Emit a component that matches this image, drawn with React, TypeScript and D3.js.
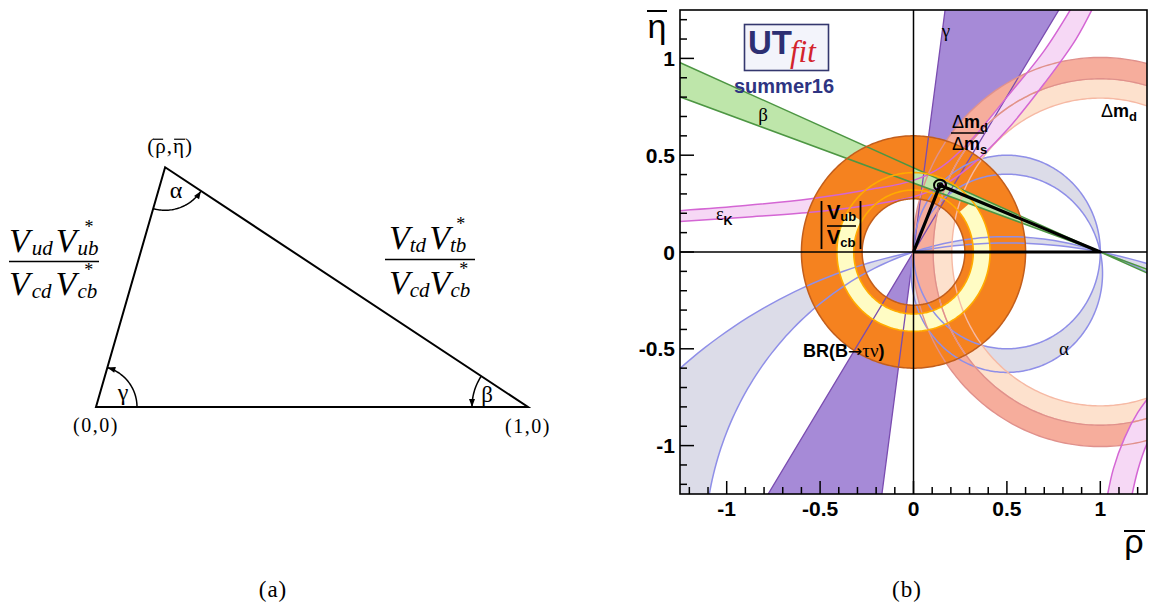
import React from "react";
import * as d3 from "d3";

const W = 1150;
const H = 605;
const SANS = "'Liberation Sans', Arial, Helvetica, sans-serif";
const SERIF = "'Liberation Serif', 'Times New Roman', serif";

// ---------- panel (a): sketch of the unitarity triangle ----------
const sketchApex: [number, number] = [0.16, 0.555];

// ---------- panel (b): constraints in the (rho-bar, eta-bar) plane ----------
const majorTicks = [-1, -0.5, 0, 0.5, 1];
const majorTickLabels = ["-1", "-0.5", "0", "0.5", "1"];

const gammaDeg = [58.1, 82.3];
const betaDeg = [19.6, 23.5];
// alpha bands: pairs of circles through (0,0) and (1,0), given by the
// eta of their centre (the centre sits at rho = 0.5)
const alphaNearPair = [0.0, -0.11];
const alphaWidePair = [-2.64, -1.54];
const brTauNuRadii = [0.275, 0.6];
const vubVcbRadii = [0.32, 0.41];
const dmdRadii = [0.895, 1.005];
const dmdDmsRadii = [0.795, 0.895];

const epsKUpper: [number, number][] = [
  [-1.3, 0.21], [-0.9, 0.24], [-0.55, 0.275], [-0.25, 0.32], [0.0, 0.37],
  [0.15, 0.44], [0.3, 0.57], [0.5, 0.8], [0.7, 1.04], [0.87, 1.3],
];
const epsKLower: [number, number][] = [
  [-1.3, 0.155], [-0.9, 0.18], [-0.55, 0.205], [-0.25, 0.24], [0.0, 0.285],
  [0.15, 0.34], [0.3, 0.44], [0.5, 0.63], [0.7, 0.87], [0.87, 1.1], [0.98, 1.3],
];
const epsKBranchInner: [number, number][] = [
  [1.03, -1.3], [1.07, -1.12], [1.13, -0.96], [1.2, -0.83], [1.3, -0.7],
];
const epsKBranchOuter: [number, number][] = [
  [1.16, -1.3], [1.2, -1.13], [1.25, -0.99], [1.3, -0.9],
];

const fitApex: [number, number] = [0.142, 0.345];

// ---------- scales ----------
const xS = d3.scaleLinear().domain([-1.25, 1.25]).range([680, 1147]);
const yS = d3.scaleLinear().domain([-1.25, 1.25]).range([494, 10]);
const xa = d3.scaleLinear().domain([0, 1]).range([96, 528]);
const ya = d3.scaleLinear().domain([0, 1]).range([407, -25]);

const line = d3.line();
const smooth = d3.line().curve(d3.curveCatmullRom.alpha(0.5));
const toPx = (pts: [number, number][]) =>
  pts.map(([u, v]) => [xS(u), yS(v)] as [number, number]);
const closed = (pts: [number, number][]) => line(toPx(pts)) + "Z";

const circleData = (
  cx: number, cy: number, r: number,
  a0 = 0, a1 = 2 * Math.PI, n = 360
): [number, number][] =>
  d3.range(n + 1).map((i) => {
    const a = a0 + ((a1 - a0) * i) / n;
    return [cx + r * Math.cos(a), cy + r * Math.sin(a)];
  });

const circleD = (cx: number, cy: number, r: number) => closed(circleData(cx, cy, r));
const ringD = (cx: number, cy: number, radii: number[]) =>
  circleD(cx, cy, radii[1]) + circleD(cx, cy, radii[0]);
const partialRingD = (cx: number, cy: number, radii: number[], a0: number, a1: number) =>
  closed([...circleData(cx, cy, radii[1], a0, a1), ...circleData(cx, cy, radii[0], a1, a0)]);
const alphaCircles = (pair: number[]) => pair.map((c) => ({ c, r: Math.hypot(0.5, c) }));
const alphaBandD = (pair: number[]) =>
  alphaCircles(pair).map(({ c, r }) => circleD(0.5, c, r)).join("");

const FAR = 6;
const rad = (d: number) => (d * Math.PI) / 180;
const doubleWedgeD = (c: [number, number], degs: number[]) => {
  const up: [number, number][] = [c, ...degs.map((d) => [c[0] + FAR * Math.cos(rad(d)), c[1] + FAR * Math.sin(rad(d))] as [number, number])];
  const dn: [number, number][] = [c, ...degs.map((d) => [c[0] - FAR * Math.cos(rad(d)), c[1] - FAR * Math.sin(rad(d))] as [number, number])];
  return closed(up) + closed(dn);
};
const linesThroughD = (c: [number, number], degs: number[]) =>
  degs
    .map((d) =>
      line(
        toPx([
          [c[0] - FAR * Math.cos(rad(d)), c[1] - FAR * Math.sin(rad(d))],
          [c[0] + FAR * Math.cos(rad(d)), c[1] + FAR * Math.sin(rad(d))],
        ])
      )
    )
    .join("");
const bandD = (a: [number, number][], b: [number, number][]) =>
  (smooth(toPx(a)) as string) +
  (smooth(toPx(b.slice().reverse())) as string).replace(/^M/, "L") +
  "Z";

// ---------- panel (a) geometry ----------
const O: [number, number] = [xa(0), ya(0)];
const R: [number, number] = [xa(1), ya(0)];
const A: [number, number] = [xa(sketchApex[0]), ya(sketchApex[1])];
const angOf = (from: [number, number], to: [number, number]) =>
  Math.atan2(-(to[1] - from[1]), to[0] - from[0]);
const arcPts = (c: [number, number], r: number, t0: number, t1: number) =>
  d3.range(41).map((i) => {
    const t = t0 + ((t1 - t0) * i) / 40;
    return [c[0] + r * Math.cos(t), c[1] - r * Math.sin(t)] as [number, number];
  });
const arrowHead = (c: [number, number], r: number, t: number) => {
  const tip = [c[0] + r * Math.cos(t), c[1] - r * Math.sin(t)];
  const tg = [-Math.sin(t), -Math.cos(t)];
  const rd = [Math.cos(t), -Math.sin(t)];
  const b = [tip[0] - 8 * tg[0], tip[1] - 8 * tg[1]];
  return `M${tip[0]},${tip[1]}L${b[0] + 3 * rd[0]},${b[1] + 3 * rd[1]}L${b[0] - 3 * rd[0]},${b[1] - 3 * rd[1]}Z`;
};

function AngleMark({ c, r, t0, t1 }: { c: [number, number]; r: number; t0: number; t1: number }) {
  return (
    <g>
      <path d={line(arcPts(c, r, t0, t1)) as string} fill="none" stroke="#000" strokeWidth={1.5} />
      <path d={arrowHead(c, r, t1)} fill="#000" />
    </g>
  );
}

// a product of two CKM elements, the second one conjugated: V_ab V*_cd
function CkmProduct({ x, y, s1, s2, d1, d2, d3, d4 }: {
  x: number; y: number; s1: string; s2: string; d1: number; d2: number; d3: number; d4: number;
}) {
  return (
    <text x={x} y={y} fontFamily={SERIF} fontSize={34} fontStyle="italic">
      V
      <tspan fontSize={21} dx={d1} dy={3}>{s1}</tspan>
      <tspan dx={d2} dy={-3}>V</tspan>
      <tspan fontSize={21} dx={d3} dy={3}>{s2}</tspan>
      <tspan fontSize={18} fontStyle="normal" dx={d4} dy={-22}>*</tspan>
    </text>
  );
}

export default function App() {
  const alphaLines = [...alphaCircles(alphaNearPair), ...alphaCircles(alphaWidePair)];
  const tickVals = yS.ticks(25);
  const isMajor = (t: number) => Math.abs(t * 2 - Math.round(t * 2)) < 1e-6;
  const apexPx = [xS(fitApex[0]), yS(fitApex[1])];

  return (
    <svg width={W} height={H} style={{ position: "absolute", left: 0, top: 0, background: "#fff" }}>
      <rect width={W} height={H} fill="#fff" />

      {/* ===== panel (a) ===== */}
      <path d={`M${O}L${R}L${A}Z`} fill="none" stroke="#000" strokeWidth={2} strokeLinejoin="miter" />
      <AngleMark c={O} r={41} t0={0} t1={angOf(O, A)} />
      <AngleMark c={A} r={43} t0={angOf(A, O)} t1={angOf(A, R)} />
      <AngleMark c={R} r={56} t0={angOf(R, A)} t1={Math.PI} />
      <g fontFamily={SERIF} textAnchor="middle">
        <text x={A[0] + 5} y={A[1] - 14} fontSize={21} letterSpacing={1}>(ρ,η)</text>
        <text x={O[0]} y={O[1] + 25} fontSize={20} letterSpacing={1.5}>(0,0)</text>
        <text x={R[0]} y={R[1] + 26} fontSize={20} letterSpacing={1.5}>(1,0)</text>
        <text x={A[0] + 11} y={A[1] + 31} fontSize={24}>α</text>
        <text x={O[0] + 27} y={O[1] - 7} fontSize={24}>γ</text>
        <text x={R[0] - 41} y={R[1] - 5} fontSize={23}>β</text>
      </g>
      {/* bars over rho and eta */}
      <line x1={A[0] - 12} x2={A[0] - 2} y1={A[1] - 28} y2={A[1] - 28} stroke="#000" strokeWidth={1.2} />
      <line x1={A[0] + 9} x2={A[0] + 20} y1={A[1] - 28} y2={A[1] - 28} stroke="#000" strokeWidth={1.2} />

      {/* side ratios */}
      <CkmProduct x={9} y={252} s1="ud" s2="ub" d1={2} d2={3} d3={1} d4={-14} />
      <line x1={9} x2={99} y1={261.5} y2={261.5} stroke="#000" strokeWidth={1.6} />
      <CkmProduct x={9} y={295} s1="cd" s2="cb" d1={2} d2={4} d3={1} d4={-13} />

      <CkmProduct x={389} y={249} s1="td" s2="tb" d1={0} d2={3} d3={0} d4={-10} />
      <line x1={385} x2={475} y1={259.5} y2={259.5} stroke="#000" strokeWidth={1.6} />
      <CkmProduct x={389} y={294} s1="cd" s2="cb" d1={0} d2={0} d3={0} d4={-11} />

      <text x={273} y={597} fontFamily={SERIF} fontSize={23} letterSpacing={1} textAnchor="middle">(a)</text>
      <text x={907} y={597} fontFamily={SERIF} fontSize={23} letterSpacing={1} textAnchor="middle">(b)</text>

      {/* ===== panel (b) ===== */}
      <defs>
        <clipPath id="plotArea">
          <rect x={680} y={10} width={467} height={484} />
        </clipPath>
        <clipPath id="upperRight">
          <rect x={xS(0)} y={10} width={1147 - xS(0)} height={yS(0) - 10} />
        </clipPath>
      </defs>
      <g clipPath="url(#plotArea)">
        {/* filled regions */}
        <path d={doubleWedgeD([0, 0], gammaDeg)} fill="#a68ad7" />
        <path d={alphaBandD(alphaNearPair)} fill="#dcdce8" fillRule="evenodd" />
        <path d={alphaBandD(alphaWidePair)} fill="#dcdce8" fillRule="evenodd" />
        <path d={ringD(1, 0, dmdDmsRadii)} fill="#fde1cd" fillRule="evenodd" />
        <path d={ringD(1, 0, dmdRadii)} fill="#f6ad9c" fillRule="evenodd" />
        <path d={bandD(epsKUpper, epsKLower)} fill="#f6d8f5" />
        <path d={bandD(epsKBranchInner, epsKBranchOuter)} fill="#f6d8f5" />
        <path d={doubleWedgeD([1, 0], betaDeg.map((d) => 180 - d))} fill="#bee6aa" />
        <path d={ringD(0, 0, brTauNuRadii)} fill="#f5821f" fillRule="evenodd" />
        <path d={partialRingD(0, 0, vubVcbRadii, rad(150), rad(400))} fill="#fffcc4" />
        <g clipPath="url(#upperRight)">
          <path d={doubleWedgeD([1, 0], betaDeg.map((d) => 180 - d))} fill="#bee6aa" />
        </g>

        {/* contour lines */}
        <path d={linesThroughD([0, 0], gammaDeg)} fill="none" stroke="#7a4cb0" strokeWidth={1.3} />
        {alphaLines.map(({ c, r }, i) => (
          <path key={"a" + i} d={circleD(0.5, c, r)} fill="none" stroke="#8f8fe8" strokeWidth={1.5} />
        ))}
        {dmdDmsRadii.map((r, i) => (
          <path key={"s" + i} d={circleD(1, 0, r)} fill="none" stroke="#f6b9a4" strokeWidth={1.4} />
        ))}
        {dmdRadii.map((r, i) => (
          <path key={"d" + i} d={circleD(1, 0, r)} fill="none" stroke="#e0918c" strokeWidth={1.4} />
        ))}
        {[epsKUpper, epsKLower, epsKBranchInner, epsKBranchOuter].map((e, i) => (
          <path key={"e" + i} d={smooth(toPx(e)) as string} fill="none" stroke="#d466d4" strokeWidth={1.5} />
        ))}
        <path d={linesThroughD([1, 0], betaDeg.map((d) => 180 - d))} fill="none" stroke="#4d9643" strokeWidth={1.5} />
        {brTauNuRadii.map((r, i) => (
          <path key={"b" + i} d={circleD(0, 0, r)} fill="none" stroke="#c25e1c" strokeWidth={1.5} />
        ))}
        {vubVcbRadii.map((r, i) => (
          <path key={"v" + i} d={circleD(0, 0, r)} fill="none" stroke="#ffab00" strokeWidth={1.6} />
        ))}

        {/* coordinate axes through the origin */}
        <line x1={xS(0)} x2={xS(0)} y1={10} y2={494} stroke="#000" strokeWidth={1.5} />
        <line x1={680} x2={1147} y1={yS(0)} y2={yS(0)} stroke="#000" strokeWidth={1.5} />

        {/* fitted triangle */}
        <path
          d={line(toPx([[0, 0], [1, 0], fitApex, [0, 0]])) as string}
          fill="none" stroke="#000" strokeWidth={3.2} strokeLinejoin="round"
        />
        <ellipse cx={apexPx[0]} cy={apexPx[1]} rx={6} ry={5.5} fill="none" stroke="#000" strokeWidth={2} />
        <ellipse cx={apexPx[0]} cy={apexPx[1]} rx={2.5} ry={2.2} fill="none" stroke="#000" strokeWidth={1.5} />
      </g>

      {/* frame and ticks */}
      <rect x={680} y={10} width={467} height={484} fill="none" stroke="#000" strokeWidth={1.6} />
      {tickVals.map((t, i) => (
        <line key={"ty" + i} x1={680} x2={680 + (isMajor(t) ? 14 : 7)} y1={yS(t)} y2={yS(t)} stroke="#000" strokeWidth={1.5} />
      ))}
      {xS.ticks(25).map((t, i) => (
        <line key={"tx" + i} x1={xS(t)} x2={xS(t)} y1={494} y2={494 - (isMajor(t) ? 13 : 7)} stroke="#000" strokeWidth={1.5} />
      ))}
      <g fontFamily={SANS} fontWeight="bold" fontSize={21}>
        {majorTicks.map((t, i) => (
          <text key={"ly" + i} x={675} y={yS(t) + 7.5} textAnchor="end">{majorTickLabels[i]}</text>
        ))}
        {majorTicks.map((t, i) => (
          <text key={"lx" + i} x={xS(t)} y={516} textAnchor="middle">{majorTickLabels[i]}</text>
        ))}
      </g>
      {/* axis titles */}
      <text x={657} y={38} fontFamily={SANS} fontSize={34} textAnchor="middle">η</text>
      <line x1={647} x2={667} y1={11} y2={11} stroke="#000" strokeWidth={2} />
      <text x={1134} y={553} fontFamily={SANS} fontSize={34} textAnchor="middle">ρ</text>
      <line x1={1124} x2={1145} y1={531} y2={531} stroke="#000" strokeWidth={2} />

      {/* constraint labels */}
      <g fontFamily={SERIF} fontSize={19} textAnchor="middle">
        <text x={946} y={37}>γ</text>
        <text x={763} y={121}>β</text>
        <text x={1064} y={355}>α</text>
      </g>
      <text x={716} y={220} fontFamily={SERIF} fontSize={18}>
        ε<tspan fontFamily={SANS} fontWeight="bold" fontSize={12.5} dy={5}>K</tspan>
      </text>

      <g fontFamily={SANS} fontWeight="bold">
        <text x={1101} y={117} fontSize={18}>
          <tspan fontWeight="normal">Δ</tspan>m<tspan fontSize={13} dy={4}>d</tspan>
        </text>
        <text x={952} y={128} fontSize={18}>
          <tspan fontWeight="normal">Δ</tspan>m<tspan fontSize={13} dy={4}>d</tspan>
        </text>
        <line x1={951} x2={984} y1={133} y2={133} stroke="#000" strokeWidth={1.5} />
        <text x={952} y={150} fontSize={18}>
          <tspan fontWeight="normal">Δ</tspan>m<tspan fontSize={13} dy={4}>s</tspan>
        </text>

        <line x1={821.5} x2={821.5} y1={201} y2={249} stroke="#000" strokeWidth={1.8} />
        <line x1={860.5} x2={860.5} y1={201} y2={249} stroke="#000" strokeWidth={1.8} />
        <text x={827} y={219} fontSize={20}>V<tspan fontSize={13} dy={2}>ub</tspan></text>
        <line x1={827} x2={856} y1={226} y2={226} stroke="#000" strokeWidth={1.6} />
        <text x={827} y={244} fontSize={20}>V<tspan fontSize={13} dy={3}>cb</tspan></text>

        <text x={803} y={357} fontSize={18}>
          BR(B<tspan fontWeight="normal" fontFamily="'DejaVu Sans', sans-serif" fontSize={17}>→</tspan>
          <tspan fontWeight="normal" fontFamily={SERIF} fontSize={19}>τν</tspan>)
        </text>
      </g>

      {/* UTfit badge */}
      <rect x={744.5} y={24.5} width={84} height={46} fill="#f3f4fb" stroke="#34376e" strokeWidth={1.6} />
      <text x={748} y={54} fontFamily={SANS} fontWeight="bold" fontSize={33} fill="#2d2f72">UT</text>
      <text x={790} y={62} fontFamily={SERIF} fontStyle="italic" fontSize={31} fill="#d3232c">fit</text>
      <text x={784} y={93} fontFamily={SANS} fontWeight="bold" fontSize={20} fill="#2e3482" textAnchor="middle">summer16</text>
    </svg>
  );
}
